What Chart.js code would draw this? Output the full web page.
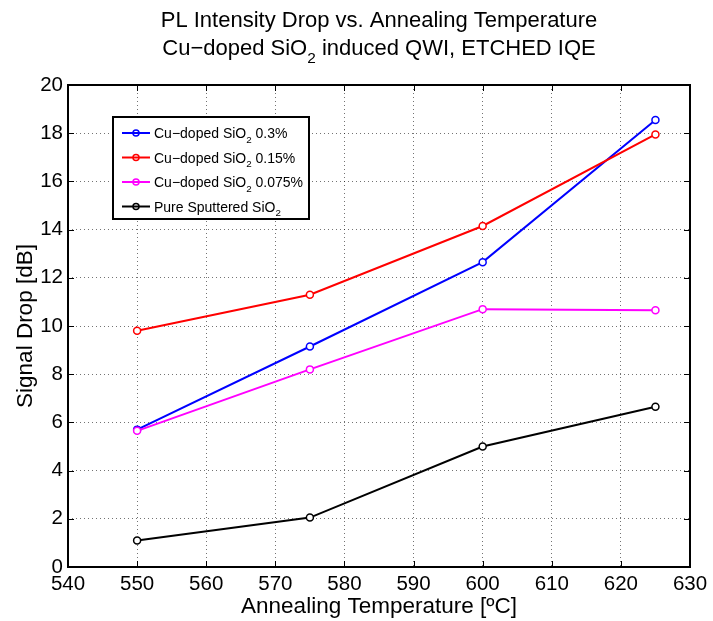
<!DOCTYPE html>
<html><head><meta charset="utf-8">
<script src="https://cdn.jsdelivr.net/npm/chart.js@4/dist/chart.umd.min.js"></script>
<style>body{margin:0;background:#fff}canvas{display:block}</style>
</head><body>
<canvas id="c" width="713" height="621"></canvas>
<script>
const temperatures = [550, 575, 600, 625];
const cu03 = [5.7, 9.15, 12.65, 18.55];
const cu015 = [9.8, 11.3, 14.15, 17.95];
const cu0075 = [5.65, 8.2, 10.7, 10.65];
const pure = [1.1, 2.05, 5.0, 6.65];
const xRange = [540, 630];
const yRange = [0, 20];
const xStep = 10;
const yStep = 2;
const seriesLabels = [
  [{t:'Cu\u2212doped SiO'},{t:'2',sub:true},{t:' 0.3%'}],
  [{t:'Cu\u2212doped SiO'},{t:'2',sub:true},{t:' 0.15%'}],
  [{t:'Cu\u2212doped SiO'},{t:'2',sub:true},{t:' 0.075%'}],
  [{t:'Pure Sputtered SiO'},{t:'2',sub:true}]
];
const titleLine1 = [{t:'PL Intensity Drop vs. Annealing Temperature'}];
const titleLine2 = [{t:'Cu\u2212doped SiO'},{t:'2',sub:true},{t:' induced QWI, ETCHED IQE'}];
const xTitle = 'Annealing Temperature [\u00baC]';
const yTitle = 'Signal Drop [dB]';
const colors = ['#0000ff','#ff0000','#ff00ff','#000000'];
const seriesValues = [cu03, cu015, cu0075, pure];

const FONT = '"Liberation Sans", Arial, Helvetica, sans-serif';

function richWidth(ctx, parts, size){
  let w=0;
  for(const p of parts){ ctx.font = (p.sub? size*0.7 : size)+'px '+FONT; w += ctx.measureText(p.t).width; }
  return w;
}
function drawRich(ctx, parts, x, y, size, align){
  const w = richWidth(ctx, parts, size);
  let cx = align==='center' ? x - w/2 : x;
  ctx.textBaseline='alphabetic'; ctx.textAlign='left';
  for(const p of parts){
    ctx.font = (p.sub? size*0.7 : size)+'px '+FONT;
    ctx.fillText(p.t, cx, p.sub ? y + size*0.35 : y);
    cx += ctx.measureText(p.t).width;
  }
}

const decor = {
  id:'decor',
  afterDraw(chart){
    const ctx = chart.ctx, a = chart.chartArea;
    const xs = chart.scales.x, ys = chart.scales.y;
    ctx.save();
    ctx.strokeStyle='#000'; ctx.lineWidth=1;
    const tl=6;
    ctx.beginPath();
    for(let v=xRange[0]; v<=xRange[1]; v+=xStep){
      const px = Math.round(xs.getPixelForValue(v))+0.5;
      ctx.moveTo(px,a.bottom); ctx.lineTo(px,a.bottom-tl);
      ctx.moveTo(px,a.top); ctx.lineTo(px,a.top+tl);
    }
    for(let v=yRange[0]; v<=yRange[1]; v+=yStep){
      const py = Math.round(ys.getPixelForValue(v))+0.5;
      ctx.moveTo(a.left,py); ctx.lineTo(a.left+tl,py);
      ctx.moveTo(a.right,py); ctx.lineTo(a.right-tl,py);
    }
    ctx.stroke();
    ctx.lineWidth=2;
    ctx.strokeRect(a.left, a.top, a.right-a.left, a.bottom-a.top);
    ctx.fillStyle='#000';
    const cx=(a.left+a.right)/2;
    drawRich(ctx, titleLine1, cx, 27, 22, 'center');
    drawRich(ctx, titleLine2, cx, 55, 22, 'center');
    ctx.font='22.5px '+FONT; ctx.textAlign='center'; ctx.textBaseline='alphabetic';
    ctx.fillText(xTitle, cx, 613);
    ctx.save();
    ctx.translate(32,(a.top+a.bottom)/2); ctx.rotate(-Math.PI/2);
    ctx.fillText(yTitle,0,0);
    ctx.restore();
    const lx=113, ly=117, lw=196, lh=102;
    ctx.fillStyle='#fff'; ctx.fillRect(lx,ly,lw,lh);
    ctx.lineWidth=2; ctx.strokeStyle='#000'; ctx.strokeRect(lx,ly,lw,lh);
    for(let i=0;i<4;i++){
      const ry = 133 + i*24.5;
      ctx.strokeStyle=colors[i]; ctx.lineWidth=2;
      ctx.beginPath(); ctx.moveTo(122,ry); ctx.lineTo(150,ry); ctx.stroke();
      ctx.lineWidth=1.5;
      ctx.beginPath(); ctx.arc(136,ry,3,0,Math.PI*2); ctx.stroke();
      ctx.fillStyle='#000';
      drawRich(ctx, seriesLabels[i], 154, ry+5, 14, 'left');
    }
    ctx.restore();
  }
};

const labelsText = seriesLabels.map(p=>p.map(s=>s.t).join(''));
new Chart(document.getElementById('c'), {
  type:'line',
  data:{
    datasets: seriesValues.map((vals,i)=>({
      label: labelsText[i],
      data: temperatures.map((t,j)=>({x:t,y:vals[j]})),
      borderColor: colors[i],
      backgroundColor: 'rgba(0,0,0,0)',
      pointBackgroundColor: '#fff',
      pointBorderColor: colors[i],
      pointRadius: 3.5,
      pointBorderWidth: 1.5,
      borderWidth: 2,
      tension: 0,
      fill:false
    })).reverse()
  },
  options:{
    responsive:false,
    animation:false,
    events:[],
    layout:{padding:{left:0,right:23,top:85,bottom:0}},
    plugins:{legend:{display:false},title:{display:false},tooltip:{enabled:false}},
    scales:{
      x:{type:'linear',min:xRange[0],max:xRange[1],
        ticks:{stepSize:xStep,color:'#000',font:{family:FONT,size:20.5},padding:5,maxRotation:0},
        grid:{drawTicks:false,color:'rgba(0,0,0,0.55)',lineWidth:1},
        border:{display:false,dash:[1,3]},
        afterFit(s){s.height=54;}
      },
      y:{type:'linear',min:yRange[0],max:yRange[1],
        ticks:{stepSize:yStep,color:'#000',font:{family:FONT,size:20.5},padding:5},
        grid:{drawTicks:false,color:'rgba(0,0,0,0.55)',lineWidth:1},
        border:{display:false,dash:[1,3]},
        afterFit(s){s.width=68;}
      }
    }
  },
  plugins:[decor]
});
</script>
</body></html>
